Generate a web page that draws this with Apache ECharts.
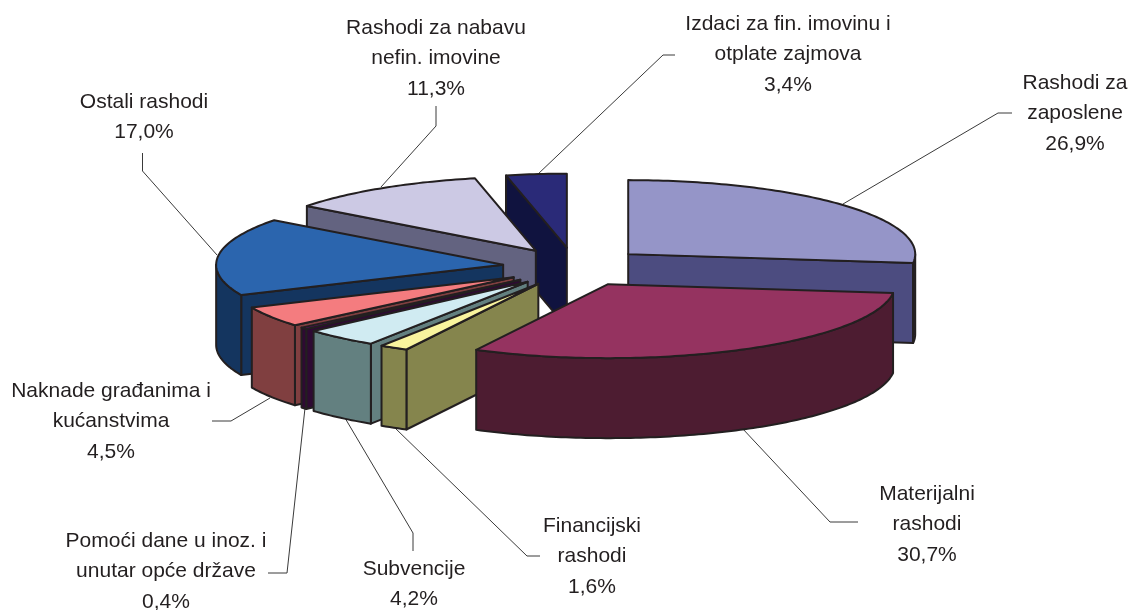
<!DOCTYPE html>
<html>
<head>
<meta charset="utf-8">
<title>Rashodi</title>
<script src="https://cdn.jsdelivr.net/npm/echarts@6/dist/echarts.min.js"></script>
<style>
  html, body { margin: 0; padding: 0; background: #fff; }
  #chart { width: 1130px; height: 610px; }
</style>
</head>
<body>
<div id="chart"></div>
<script>
// values, clockwise from 12 o'clock
const categories = ['Rashodi za zaposlene', 'Materijalni rashodi', 'Financijski rashodi', 'Subvencije',
  'Pomoći dane u inoz. i unutar opće države', 'Naknade građanima i kućanstvima', 'Ostali rashodi',
  'Rashodi za nabavu nefin. imovine', 'Izdaci za fin. imovinu i otplate zajmova'];
const shares = [26.9, 30.7, 1.6, 4.2, 0.4, 4.5, 17.0, 11.3, 3.4];
const topColors = ['#9595c8', '#953360', '#f9f49e', '#d0ebf2', '#660a6e', '#f47c7f', '#2b65ae', '#ccc9e4', '#2a2a78'];
const wallColors = ['#4c4c80', '#4d1c31', '#85854d', '#638080', '#2e0a33', '#803f40', '#14355f', '#636380', '#10133f'];

// pie projection
const cx = 574.5, cy = 267;
const rx = 287, ry = 74, depth = 80;
const explodeX = 71.8, explodeY = 19.4;
const outline = { stroke: '#231f20', lineWidth: 2, lineJoin: 'round' };

// label layout: lines are centred on x, one baseline step apart
const labelLines = [
  { x: 1075, y: 83, lines: ['Rashodi za', 'zaposlene', '26,9%'] },
  { x: 927, y: 494, lines: ['Materijalni', 'rashodi', '30,7%'] },
  { x: 592, y: 526, lines: ['Financijski', 'rashodi', '1,6%'] },
  { x: 414, y: 569, lines: ['Subvencije', '4,2%'] },
  { x: 166, y: 541, lines: ['Pomoći dane u inoz. i', 'unutar opće države', '0,4%'] },
  { x: 111, y: 391, lines: ['Naknade građanima i', 'kućanstvima', '4,5%'] },
  { x: 144, y: 102, lines: ['Ostali rashodi', '17,0%'] },
  { x: 436, y: 28, lines: ['Rashodi za nabavu', 'nefin. imovine', '11,3%'] },
  { x: 788, y: 24, lines: ['Izdaci za fin. imovinu i', 'otplate zajmova', '3,4%'] }
];
const leaders = [
  [[843, 204], [998, 113], [1012, 113]],
  [[742, 428], [830, 522], [858, 522]],
  [[395, 428], [527, 556], [540, 556]],
  [[345, 418], [413, 533], [413, 551]],
  [[305, 408], [287, 573], [268, 573]],
  [[270, 398], [231, 421], [212, 421]],
  [[217, 255], [142.5, 171], [142.5, 153]],
  [[381, 187], [436, 126], [436, 106]],
  [[537, 175], [663, 55], [675, 55]]
];

const rad = d => d * Math.PI / 180;
const total = shares.reduce((a, b) => a + b, 0);
const starts = [];
shares.reduce((sum, v, i) => { starts[i] = sum; return sum + v; }, 0);

function sliceAngles(i) {
  const a0 = starts[i] / total * 360;
  const a1 = (starts[i] + shares[i]) / total * 360;
  return [a0, a1, (a0 + a1) / 2];
}

// back slices are painted first
const drawOrder = shares.map((v, i) => i).sort((p, q) => Math.cos(rad(sliceAngles(q)[2])) - Math.cos(rad(sliceAngles(p)[2])));

function arcPoints(ax, ay, from, to) {
  const pts = [];
  const n = Math.max(2, Math.ceil(to - from));
  for (let k = 0; k <= n; k++) {
    const a = rad(from + (to - from) * k / n);
    pts.push([ax + rx * Math.sin(a), ay - ry * Math.cos(a)]);
  }
  return pts;
}

function drop(pts) {
  return pts.map(p => [p[0], p[1] + depth]).reverse();
}

function renderSlice(params, api) {
  const i = api.value(0);
  const [a0, a1, mid] = sliceAngles(i);
  const ax = cx + explodeX * Math.sin(rad(mid));
  const ay = cy - explodeY * Math.cos(rad(mid));
  const arc = arcPoints(ax, ay, a0, a1);
  const face = (points, fill) => ({
    type: 'polygon',
    shape: { points: points },
    style: Object.assign({ fill: fill }, outline)
  });
  const children = [];
  const apex = [ax, ay];
  if (Math.sin(rad(a0)) < 0) {
    const edge = [apex, arc[0]];
    children.push(face(edge.concat(drop(edge)), wallColors[i]));
  }
  if (Math.sin(rad(a1)) > 0) {
    const edge = [apex, arc[arc.length - 1]];
    children.push(face(edge.concat(drop(edge)), wallColors[i]));
  }
  const wallFrom = Math.max(a0, 90), wallTo = Math.min(a1, 270);
  if (wallFrom < wallTo) {
    const rim = arcPoints(ax, ay, wallFrom, wallTo);
    children.push(face(rim.concat(drop(rim)), wallColors[i]));
  }
  children.push(face([apex].concat(arc), topColors[i]));
  return { type: 'group', children: children };
}

const textElements = [];
labelLines.forEach(block => {
  block.lines.forEach((line, k) => {
    textElements.push({
      type: 'text',
      x: block.x,
      y: block.y + k * 30.5,
      style: {
        text: line,
        fill: '#231f20',
        font: '21px "Liberation Sans", Arial, sans-serif',
        align: 'center',
        verticalAlign: 'middle'
      }
    });
  });
});
const leaderElements = leaders.map(points => ({
  type: 'polyline',
  shape: { points: points },
  style: { stroke: '#3a3a3a', lineWidth: 1, fill: 'none' }
}));

const chart = echarts.init(document.getElementById('chart'));
chart.setOption({
  animation: false,
  backgroundColor: '#fff',
  graphic: leaderElements.concat(textElements),
  series: [{
    type: 'custom',
    coordinateSystem: 'none',
    silent: true,
    renderItem: renderSlice,
    encode: { tooltip: [1] },
    data: drawOrder.map(i => ({ name: categories[i], value: [i, shares[i]] }))
  }]
});
</script>
</body>
</html>
